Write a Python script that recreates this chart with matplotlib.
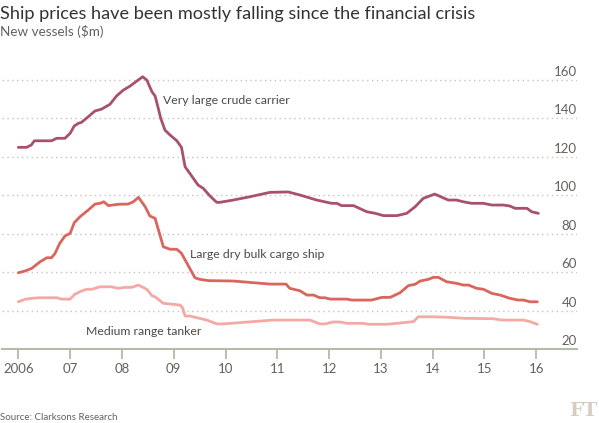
import matplotlib
matplotlib.use("Agg")
from matplotlib import pyplot as plt

# data (decimal year, $m)
vlcc_x = [2006.0, 2006.16, 2006.25, 2006.31, 2006.64, 2006.74, 2006.9, 2007.0, 2007.08, 2007.16,
          2007.22, 2007.35, 2007.48, 2007.61, 2007.77, 2007.9, 2008.03, 2008.16, 2008.29, 2008.4,
          2008.48, 2008.58, 2008.64, 2008.67, 2008.75, 2008.83, 2008.93, 2009.06, 2009.15, 2009.22,
          2009.31, 2009.47, 2009.57, 2009.7, 2009.83, 2009.89, 2010.15, 2010.47, 2010.86, 2011.21,
          2011.44, 2011.76, 2012.05, 2012.15, 2012.24, 2012.47, 2012.73, 2012.89, 2013.05, 2013.31,
          2013.5, 2013.66, 2013.82, 2014.04, 2014.3, 2014.46, 2014.59, 2014.75, 2014.98, 2015.14,
          2015.36, 2015.49, 2015.59, 2015.82, 2015.91, 2016.04]
vlcc_y = [125, 125, 126.2, 128.4, 128.4, 129.7, 129.7, 132.3, 136.1, 137.5,
          138.0, 140.9, 143.9, 144.9, 147.4, 151.8, 154.8, 156.9, 159.5, 161.7,
          160, 153.9, 151.7, 148.7, 140.1, 134, 131.4, 128.4, 125, 114.9,
          111.5, 105.4, 103.7, 99.7, 96.4, 96.4, 97.6, 99.3, 101.6, 101.8,
          100.2, 97.6, 95.9, 95.9, 94.7, 94.7, 91.5, 90.7, 89.5, 89.5,
          90.7, 94.1, 98.5, 100.7, 97.6, 97.6, 96.7, 95.9, 95.9, 95,
          95, 94.5, 93.3, 93.3, 91.5, 90.7]

bulk_x = [2006.0, 2006.13, 2006.26, 2006.42, 2006.55, 2006.64, 2006.71, 2006.8, 2006.9, 2007.0,
          2007.08, 2007.19, 2007.35, 2007.48, 2007.58, 2007.65, 2007.74, 2007.93, 2008.12, 2008.22,
          2008.32, 2008.45, 2008.54, 2008.64, 2008.8, 2008.93, 2009.06, 2009.15, 2009.41, 2009.5,
          2009.67, 2010.15, 2010.86, 2011.17, 2011.24, 2011.44, 2011.57, 2011.7, 2011.82, 2011.92,
          2012.02, 2012.34, 2012.44, 2012.82, 2013.02, 2013.18, 2013.37, 2013.53, 2013.66, 2013.76,
          2013.92, 2014.01, 2014.11, 2014.27, 2014.46, 2014.59, 2014.69, 2014.85, 2014.98, 2015.14,
          2015.3, 2015.49, 2015.65, 2015.75, 2015.88, 2016.02]
bulk_y = [59.8, 60.7, 62.1, 65.5, 67.6, 67.6, 69.9, 75.1, 78.9, 80.3,
          85.8, 88.9, 92.4, 95.5, 95.9, 96.7, 94.7, 95.4, 95.5, 96.7,
          99, 94.1, 89.3, 88.1, 73.3, 72, 72, 69.9, 57.2, 56.4,
          55.7, 55.5, 53.9, 53.9, 51.7, 50.4, 48.2, 48.2, 46.8, 46.8,
          46.1, 46.1, 45.6, 45.6, 47, 47, 49.4, 53.1, 53.8, 55.5,
          56.4, 57.4, 57.4, 55.1, 54.3, 53.4, 53.4, 51.7, 51.2, 49.1,
          48.2, 46.5, 45.6, 45.6, 44.7, 44.7]

mr_x = [2006.0, 2006.13, 2006.26, 2006.42, 2006.74, 2006.84, 2007.0, 2007.09, 2007.22, 2007.32,
        2007.42, 2007.58, 2007.8, 2007.93, 2008.06, 2008.19, 2008.32, 2008.48, 2008.58, 2008.64,
        2008.8, 2008.99, 2009.12, 2009.17, 2009.22, 2009.31, 2009.64, 2009.83, 2009.96, 2010.92,
        2011.44, 2011.63, 2011.82, 2011.92, 2012.08, 2012.21, 2012.34, 2012.66, 2012.76, 2013.11,
        2013.31, 2013.63, 2013.72, 2014.01, 2014.33, 2014.62, 2015.17, 2015.33, 2015.75, 2015.88,
        2016.02]
mr_y = [44.7, 46, 46.5, 46.8, 46.8, 46.1, 46.1, 48.6, 50.3, 51.2,
        51.2, 52.5, 52.5, 51.7, 52.2, 52.2, 53.4, 51.2, 47.9, 47.3,
        43.9, 43.4, 43, 41.6, 37.3, 37.3, 35.2, 33.2, 33.2, 35.2,
        35.2, 35.2, 33.2, 33.2, 34.2, 34.2, 33.5, 33.5, 33, 33,
        33.5, 34.4, 36.9, 36.9, 36.6, 36.1, 35.9, 35.2, 35.2, 34.4,
        33]

yticks = [20, 40, 60, 80, 100, 120, 140, 160]
years = list(range(2006, 2017))
year_labels = ["2006", "07", "08", "09", "10", "11", "12", "13", "14", "15", "16"]

plt.rcParams['font.family'] = ['Lato', 'DejaVu Sans']

fig = plt.figure(figsize=(5.99, 4.23), dpi=100)
fig.patch.set_facecolor("white")
ax = fig.add_axes([2/599, 1 - 349.3/423, 575/599, (349.3 - 70.4)/423])
ax.set_facecolor("white")

ax.plot(mr_x, mr_y, color="#f4a9a5", lw=2, solid_capstyle="round", zorder=3)
ax.plot(bulk_x, bulk_y, color="#d9655d", lw=2, solid_capstyle="round", zorder=3)
ax.plot(vlcc_x, vlcc_y, color="#a9506e", lw=2, solid_capstyle="round", zorder=3)

ax.set_xlim(2005.685, 2016.786)
ax.set_ylim(20, 165)

for s in ["top", "right", "left"]:
    ax.spines[s].set_visible(False)
ax.spines["bottom"].set_color("#b3bbaa")
ax.spines["bottom"].set_linewidth(1.5)

ax.set_yticks(yticks[1:])
ax.yaxis.grid(True, linestyle=(0, (1, 2.5)), color="#c9c2ba", lw=1)
ax.tick_params(axis="y", length=0, labelleft=False)
for v in yticks:
    ax.text(2016.786, v + 1.2, str(v), ha="right", va="bottom", fontsize=9.5, color="#66605c")

ax.set_xticks(years)
ax.set_xticklabels(year_labels)
ax.tick_params(axis="x", length=7, width=1.3, color="#b3bbaa", labelsize=9.5,
               labelcolor="#66605c", pad=3)

ax.text(2008.79, 149.1, "Very large crude carrier", fontsize=8.8, color="#4d4845", va="center")
ax.text(2009.31, 69.5, "Large dry bulk cargo ship", fontsize=8.8, color="#4d4845", va="center")
ax.text(2007.31, 29.5, "Medium range tanker", fontsize=8.8, color="#4d4845", va="center")

fig.text(0.0, 1 - 14/423, "Ship prices have been mostly falling since the financial crisis",
         fontsize=13.1, color="#333333", va="center", ha="left")
fig.text(0.0, 1 - 32/423, "New vessels ($m)", fontsize=9.7, color="#66605c", va="center")
fig.text(0.0, 1 - 417/423, "Source: Clarksons Research", fontsize=7, color="#66605c", va="center")
fig.text(597/599, 1 - 411/423, "FT", fontsize=14, family="DejaVu Serif", weight="bold",
         color="#d6ccbf", ha="right", va="center")

fig.savefig("out.png", dpi=100, facecolor="white")
